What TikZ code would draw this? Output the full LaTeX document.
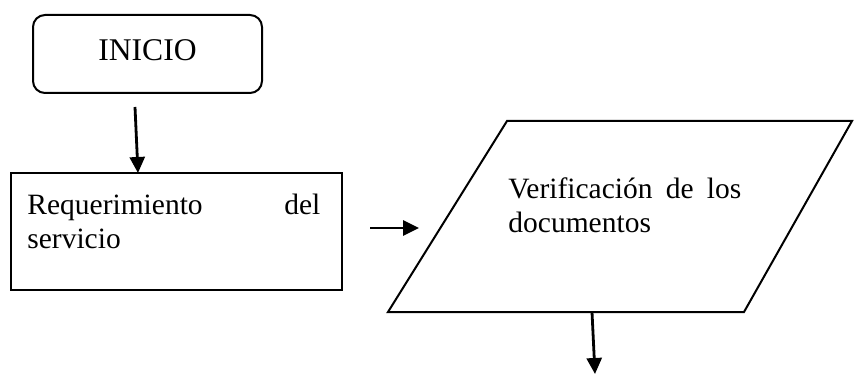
\documentclass[tikz,border=0pt]{standalone}
\usepackage{fontspec}
\setmainfont{Liberation Serif}
\usetikzlibrary{arrows.meta}
\begin{document}
\begin{tikzpicture}[x=0.5pt,y=-0.5pt,
  shapeline/.style={draw=black,line width=1pt},
  conn/.style={line width=1.4pt,-{Triangle[length=8pt,width=7.5pt]}},
  txt/.style={font=\fontsize{14.75}{17}\selectfont},
  bodytext/.style={txt,anchor=north west,inner sep=0pt,align=justify}]
\useasboundingbox (0,0) rectangle (858,374);
% INICIO
\node[shapeline,rounded corners=6pt,minimum width=114.5pt,minimum height=39pt,
      inner sep=0pt,text depth=4pt,font=\fontsize{15.8}{18}\selectfont] (inicio) at (147.5,54) {INICIO};
% Requerimiento box
\node[shapeline,minimum width=165.5pt,minimum height=58.5pt,inner sep=0pt] (req) at (176.5,231.5) {};
\node[bodytext,text width=146.5pt] (reqtext) at (27,194) {Requerimiento del\linebreak servicio};
% Parallelogram
\coordinate (ptl) at (507,121);
\coordinate (ptr) at (852,121);
\coordinate (pbr) at (744,312);
\coordinate (pbl) at (388,312);
\draw[shapeline,line join=miter] (ptl) -- (ptr) -- (pbr) -- (pbl) -- cycle;
\node[bodytext,text width=116.5pt] (vertext) at (508,177) {Verificación de los\linebreak documentos};
% connectors
\coordinate (a1s) at (135,107);
\coordinate (a1e) at (138,173);
\coordinate (a2s) at (370,228);
\coordinate (a2e) at (419,228);
\coordinate (a3s) at (592,312);
\coordinate (a3e) at (595,374);
\draw[conn] (a1s) -- (a1e);
\draw[conn] (a2s) -- (a2e);
\draw[conn] (a3s) -- (a3e);
\end{tikzpicture}
\end{document}
